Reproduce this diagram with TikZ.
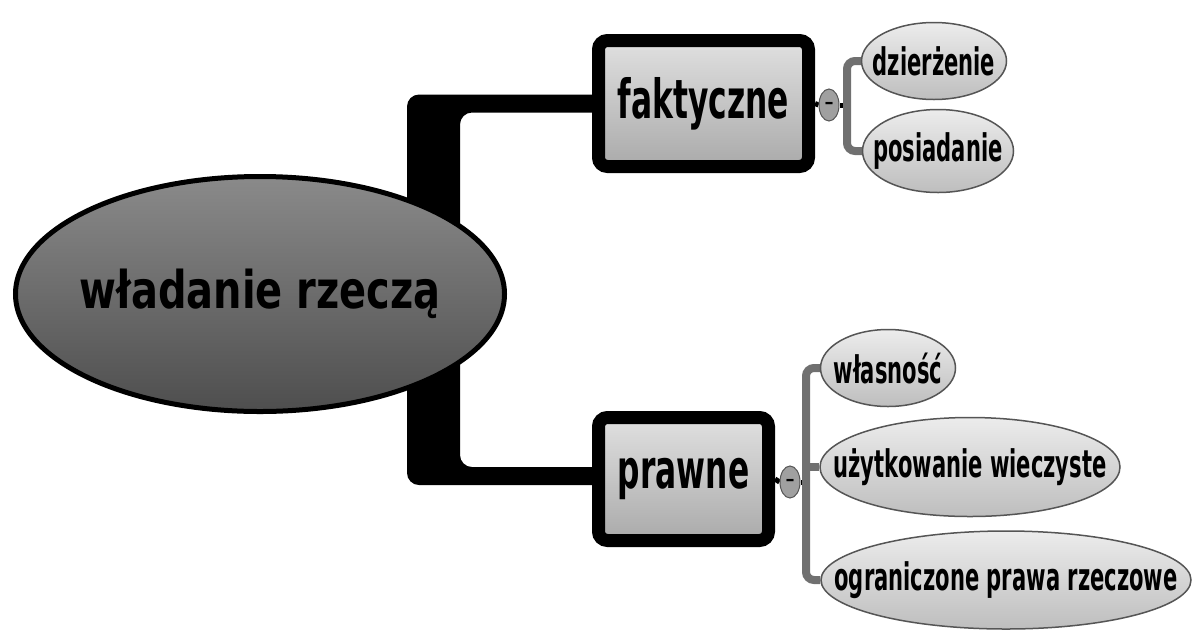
\documentclass[tikz,border=0pt]{standalone}
\usepackage{fontspec}
\setmainfont{DejaVu Sans}
\usepackage{graphicx}
\usetikzlibrary{shapes.geometric,calc}
\definecolor{rootTop}{RGB}{138,138,138}
\definecolor{rootBot}{RGB}{78,78,78}
\definecolor{boxTop}{RGB}{224,224,224}
\definecolor{boxBot}{RGB}{170,170,170}
\definecolor{leafTop}{RGB}{236,236,236}
\definecolor{leafBot}{RGB}{190,190,190}
\definecolor{leafLine}{RGB}{85,85,85}
\definecolor{brk}{RGB}{112,112,112}
\definecolor{btnFill}{RGB}{160,160,160}
\newcommand\lbl[3]{\fontsize{#1}{#1}\selectfont\bfseries\scalebox{#2}[1]{#3}}
\pgfdeclarelayer{bg}
\pgfsetlayers{bg,main}
\begin{document}
\begin{tikzpicture}[x=1pt,y=-1pt,
 rootnode/.style={ellipse, draw=black, line width=5pt, top color=rootTop, bottom color=rootBot, minimum width=489pt, minimum height=235pt, inner sep=0pt},
 boxnode/.style={rectangle, rounded corners=9pt, draw=black, line width=13pt, top color=boxTop, bottom color=boxBot, inner sep=0pt},
 leaf/.style={ellipse, draw=leafLine, line width=1.5pt, top color=leafTop, bottom color=leafBot, inner sep=0pt},
 btn/.style={ellipse, draw=leafLine, line width=1pt, fill=btnFill, minimum width=20pt, minimum height=32pt, inner sep=0pt},
 trunk/.style={fill=black, rounded corners=12pt},
 branchline/.style={draw=brk, line width=8pt, rounded corners=8pt},
 stubline/.style={draw=black, line width=5pt},
 smalltxt/.style={inner sep=0pt}]
\begin{pgfonlayer}{bg}
\fill[white] (0,0) rectangle (1193,630);
\end{pgfonlayer}
\useasboundingbox (0,0) rectangle (1193,630);

% main nodes
\node[rootnode, label={[smalltxt]center:\lbl{52}{0.768}{władanie rzeczą}}] (root) at (260,294) {};
\node[boxnode, minimum width=210pt, minimum height=126pt] (fakt) at (703.5,103.5) {\lbl{54}{0.58}{faktyczne}};
\node[boxnode, minimum width=170pt, minimum height=123pt] (praw) at (683.5,479) {\lbl{54}{0.58}{prawne}};

% buttons
\node[btn] (b1) at (829,105) {\fontsize{18}{18}\selectfont\bfseries –};
\node[btn] (b2) at (790,482) {\fontsize{18}{18}\selectfont\bfseries –};
\coordinate (j2) at (847,105);
\coordinate (j3) at (806,482);

% leaves
\node[leaf, minimum width=145pt, minimum height=77pt, label={[smalltxt]center:\lbl{38}{0.555}{dzierżenie}}] (dz) at (934,61) {};
\node[leaf, minimum width=151pt, minimum height=83pt, label={[smalltxt]center:\lbl{38}{0.555}{posiadanie}}] (pos) at (938,151) {};
\node[leaf, minimum width=135pt, minimum height=77pt, label={[smalltxt]center:\lbl{38}{0.555}{własność}}] (wl) at (888,368) {};
\node[leaf, minimum width=300pt, minimum height=99pt, label={[smalltxt]center:\lbl{38}{0.555}{użytkowanie wieczyste}}] (uz) at (970,467) {};
\node[leaf, minimum width=370pt, minimum height=98pt, label={[smalltxt]center:\lbl{38}{0.555}{ograniczone prawa rzeczowe}}] (og) at (1006,580) {};

\begin{pgfonlayer}{bg}
% thick connectors from root
\fill[trunk] ($(fakt.west)+(20,-9)$) -- (407,94.5) -- (407,240) -- (460,240) -- (460,112.5) -- ($(fakt.west)+(20,9)$) -- cycle;
\fill[trunk] ($(praw.west)+(20,-12)$) -- (460,467) -- (460,340) -- (407,340) -- (407,485) -- ($(praw.west)+(20,6)$) -- cycle;
% stubs to buttons
\draw[stubline] (fakt.east) -- (b1.west);
\draw[stubline] (b1.east) -- (j2);
\draw[stubline] (praw.east) -- (b2.west);
\draw[stubline] (b2.east) -- (j3);
% grey brackets
\draw[branchline] (dz.west) -| (j2) |- (pos.west);
\draw[branchline] (wl.west) -| (j3) |- (og.west);
\draw[branchline] (uz.west) -- (uz.west -| j3);
\end{pgfonlayer}
\end{tikzpicture}
\end{document}
